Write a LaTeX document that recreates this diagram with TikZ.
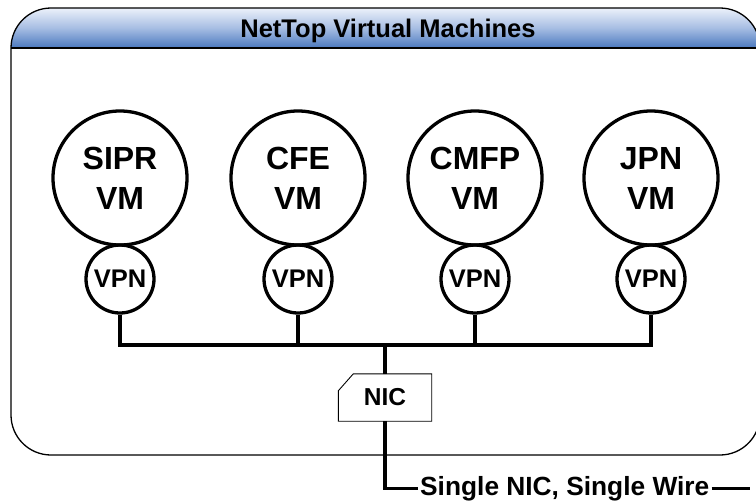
\documentclass[tikz,border=0pt]{standalone}
\usepackage{fontspec}
\setmainfont{Liberation Sans}
\usetikzlibrary{calc}
\definecolor{hdrtop}{RGB}{236,241,250}
\definecolor{hdrmid}{RGB}{166,189,227}
\definecolor{hdrbot}{RGB}{74,120,190}
\tikzset{
  vmcircle/.style={circle, draw, line width=3.3pt, minimum size=134pt, inner sep=0pt, align=center,
     font=\fontsize{32}{40}\selectfont\bfseries},
  vpncircle/.style={circle, draw, line width=3.3pt, minimum size=68pt, inner sep=0pt,
     font=\fontsize{25.5}{28}\selectfont\bfseries},
  wire/.style={line width=3.3pt},
  framestyle/.style={line width=1.3pt},
}
\begin{document}
\begin{tikzpicture}[x=1pt,y=-1pt]
\useasboundingbox (0,0) rectangle (756,501);
\begin{scope}
\clip (0,0) rectangle (756,501);
% frame
\fill[white] (11,8) [rounded corners=40pt] -- (11,455) -- (760,455) -- (760,8) -- cycle;
\begin{scope}
  \clip (11,455) [rounded corners=40pt] -- (11,8) -- (760,8) -- (760,455) -- cycle;
  \shade[top color=hdrtop, bottom color=hdrbot, middle color=hdrmid] (0,8) rectangle (770,48);
\end{scope}
\draw[framestyle] (11,200) [rounded corners=40pt] -- (11,8) -- (760,8) -- (760,455) -- (11,455) -- (11,200);
\draw[line width=1.3pt] (11,48) -- (760,48);
\end{scope}
\node[anchor=base, inner sep=0pt, font=\fontsize{25.5}{28}\selectfont\bfseries] (title) at (388,37) {NetTop Virtual Machines};

% VM circles
\node[vmcircle] (vm1) at (120,178) {SIPR\\VM};
\node[vmcircle] (vm2) at (298,178) {CFE\\VM};
\node[vmcircle] (vm3) at (475,178) {CMFP\\VM};
\node[vmcircle] (vm4) at (651,178) {JPN\\VM};
% VPN circles
\node[vpncircle] (vpn1) at (120,279) {VPN};
\node[vpncircle] (vpn2) at (298,279) {VPN};
\node[vpncircle] (vpn3) at (475,279) {VPN};
\node[vpncircle] (vpn4) at (651,279) {VPN};

% bus
\coordinate (b1) at (120,345);
\coordinate (b2) at (298,345);
\coordinate (b3) at (475,345);
\coordinate (b4) at (651,345);
\coordinate (bn) at (385,345);
\draw[wire] (vpn1.south) -- (b1);
\draw[wire] (vpn2.south) -- (b2);
\draw[wire] (vpn3.south) -- (b3);
\draw[wire] (vpn4.south) -- (b4);
\draw[wire, line cap=rect] (b1) -- (b4);

% NIC
\node[minimum width=93pt, minimum height=47pt, inner sep=0pt, font=\fontsize{24.5}{26}\selectfont\bfseries] (nic) at (385,397.5) {NIC};
\draw[line width=0.9pt] ([xshift=15pt]nic.north west) -- (nic.north east) -- (nic.south east) -- (nic.south west) -- ([yshift=-17pt]nic.north west) -- cycle;
\draw[wire] (bn) -- (nic.north);

% bottom text
\node[anchor=base west, inner xsep=2pt, inner ysep=0pt, font=\fontsize{26.3}{28}\selectfont\bfseries] (single) at (418,495) {Single NIC, Single Wire};
\coordinate (wend) at (750,485);
\draw[wire] (nic.south) |- (single.west);
\draw[wire] (single.east) -- (single.east -| wend);
\end{tikzpicture}
\end{document}
